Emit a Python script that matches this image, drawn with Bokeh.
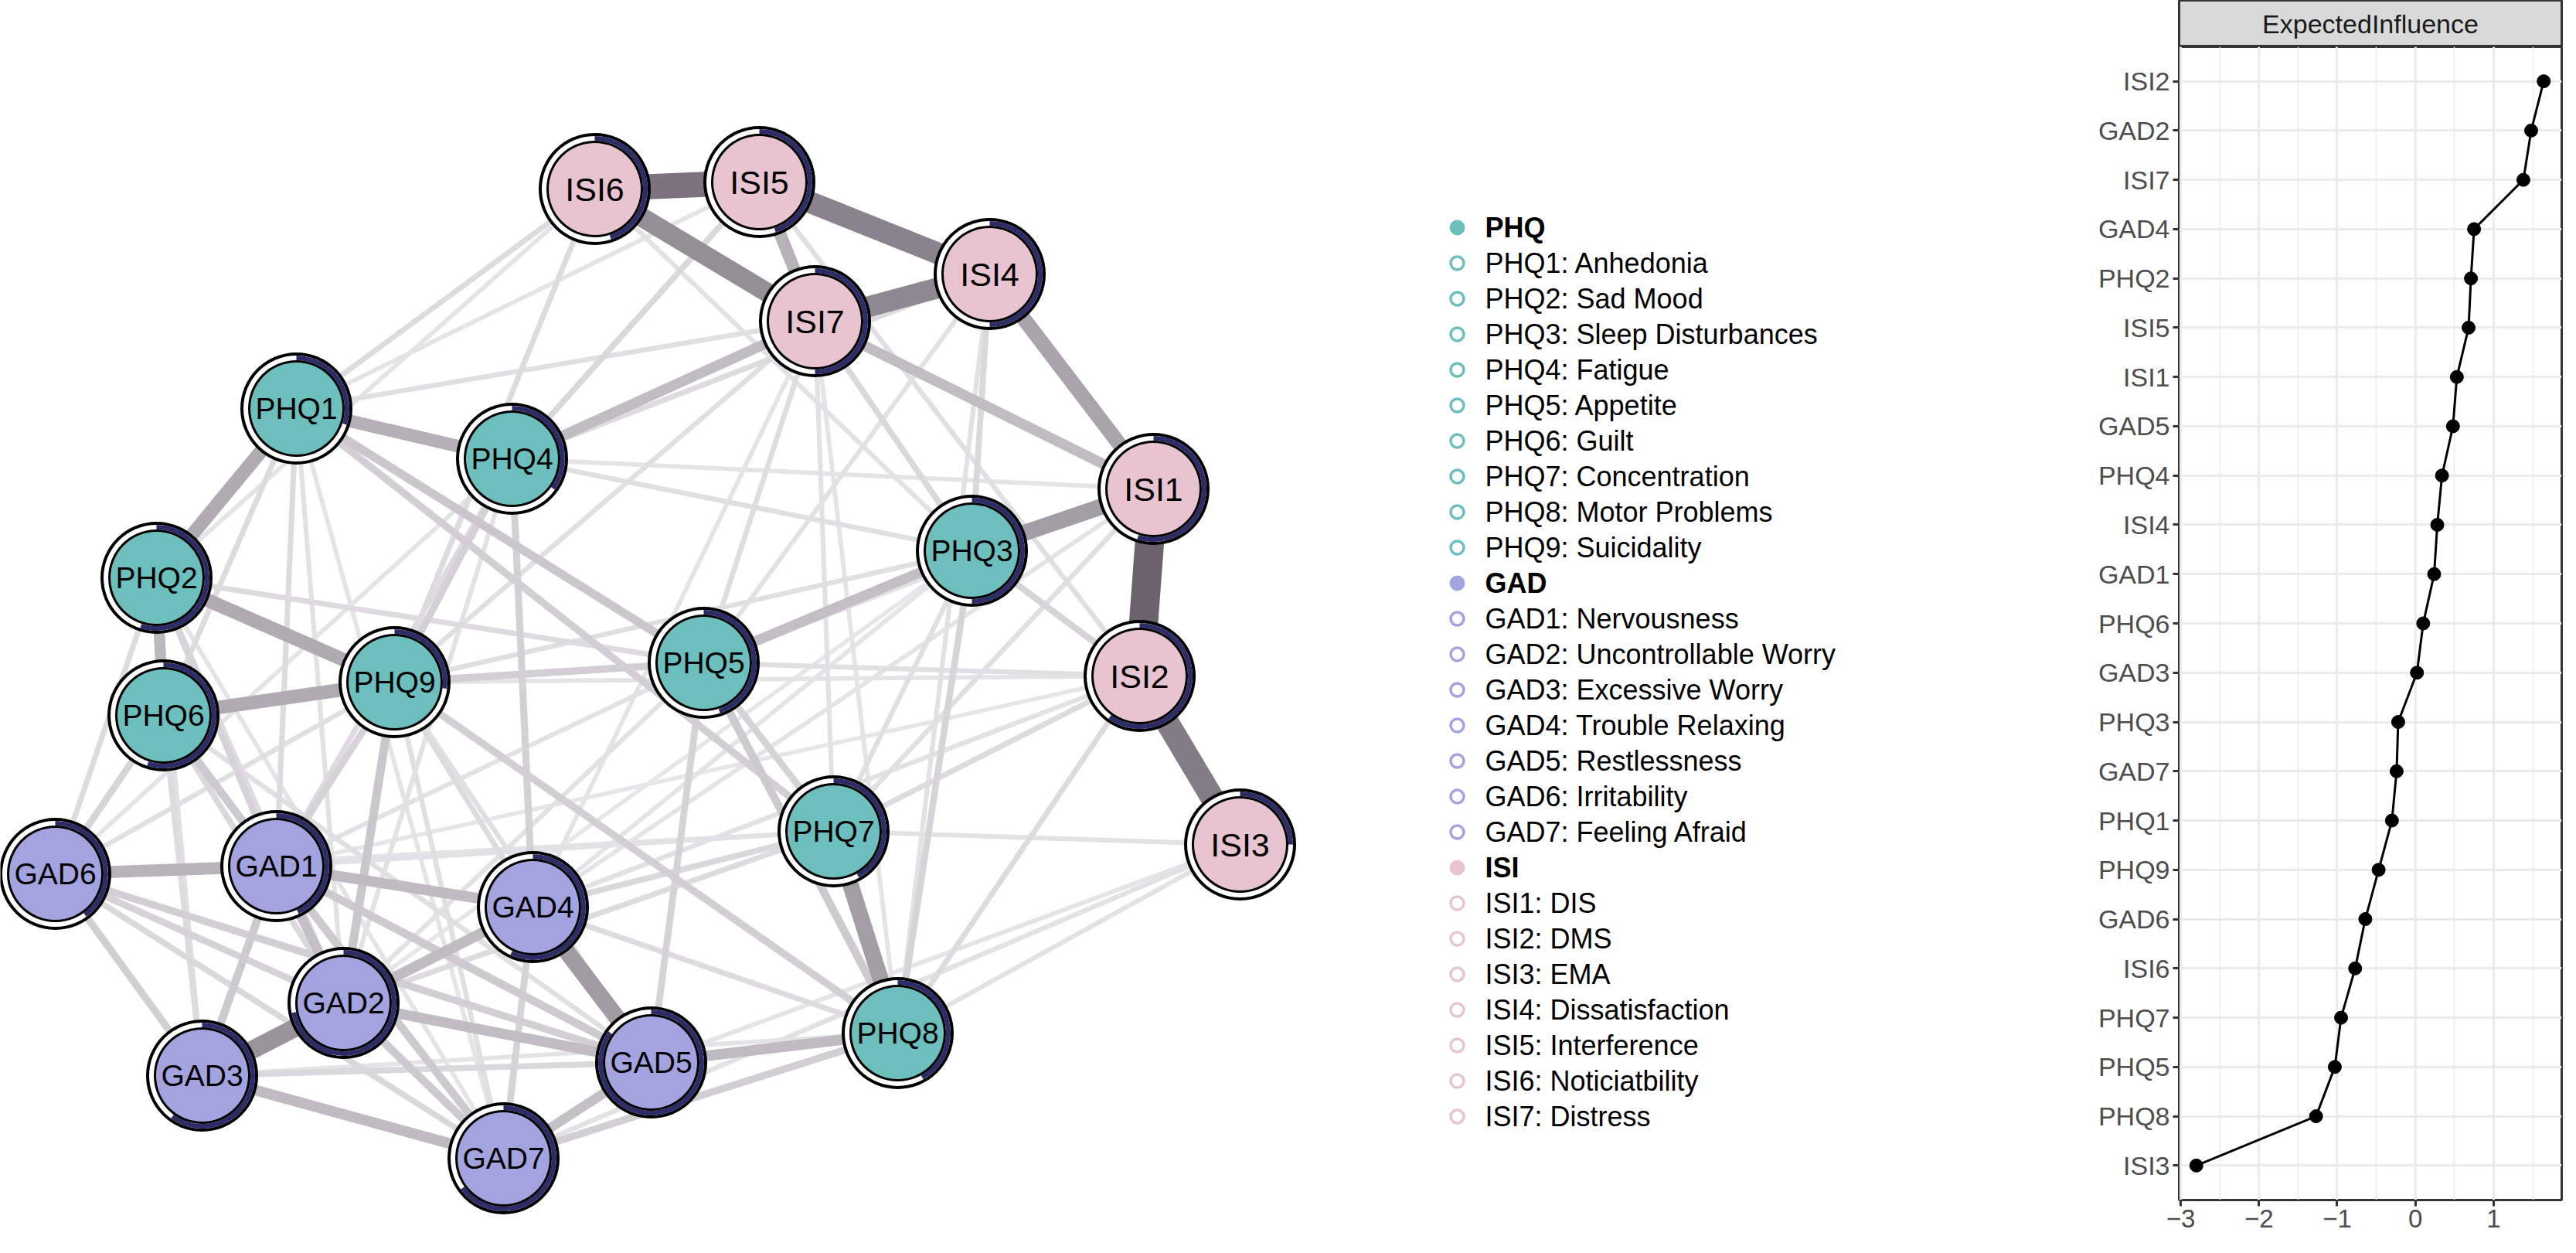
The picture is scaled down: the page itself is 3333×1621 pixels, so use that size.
import math
from bokeh.plotting import figure
from bokeh.models import ColumnDataSource, Range1d, FactorRange, Label, FixedTicker
from bokeh.layouts import row, column
from bokeh.embed import file_html
from bokeh.resources import INLINE
from bokeh.core.properties import value

FONT = "Liberation Sans"

# ---------------- network data ----------------
node_names = ["PHQ1", "PHQ2", "PHQ3", "PHQ4", "PHQ5", "PHQ6", "PHQ7", "PHQ8", "PHQ9",
              "GAD1", "GAD2", "GAD3", "GAD4", "GAD5", "GAD6", "GAD7",
              "ISI1", "ISI2", "ISI3", "ISI4", "ISI5", "ISI6", "ISI7"]
node_group = ["PHQ"] * 9 + ["GAD"] * 7 + ["ISI"] * 7
# layout positions (x to the right, y measured from the top)
node_x = [391, 210, 1265, 670, 918, 219, 1086, 1169, 518,
          365, 452, 269, 697, 850, 79, 659,
          1500, 1482, 1612, 1288, 990, 777, 1062]
node_y = [536, 755, 720, 601, 865, 933, 1083, 1344, 890,
          1128, 1305, 1399, 1181, 1382, 1138, 1506,
          640, 882, 1100, 362, 243, 252, 423]
# predictability (share of the ring drawn dark)
predictability = [0.30, 0.55, 0.50, 0.35, 0.45, 0.55, 0.42, 0.42, 0.27,
                  0.43, 0.72, 0.60, 0.57, 0.85, 0.40, 0.65,
                  0.55, 0.60, 0.25, 0.50, 0.45, 0.45, 0.50]

edge_from = ["ISI1", "ISI6", "ISI2", "ISI5", "ISI7", "ISI6", "GAD2", "GAD4", "PHQ7", "ISI1",
             "ISI4", "PHQ1", "PHQ2", "PHQ6", "PHQ1", "ISI5", "GAD6", "PHQ2", "GAD1", "GAD2",
             "GAD5", "GAD3", "GAD2", "ISI7", "PHQ4", "PHQ5", "GAD1", "GAD5", "PHQ1", "PHQ9",
             "PHQ6", "GAD1", "GAD1", "GAD2", "GAD6", "PHQ5", "GAD7", "PHQ1", "PHQ4", "PHQ9",
             "GAD1", "GAD6", "GAD6", "GAD6", "PHQ6", "PHQ2", "PHQ9", "PHQ5", "PHQ3", "PHQ3",
             "PHQ5", "PHQ4", "GAD4", "GAD3", "GAD4", "PHQ9", "ISI6", "ISI6", "ISI5", "PHQ4",
             "ISI7", "ISI4", "PHQ7", "ISI2", "ISI1", "PHQ1", "PHQ1", "PHQ2", "PHQ6", "PHQ6",
             "PHQ2", "PHQ4", "ISI6", "PHQ4", "PHQ7", "PHQ8", "ISI3", "ISI2", "PHQ5", "PHQ9",
             "PHQ9", "GAD3", "GAD6", "PHQ2", "GAD4", "ISI3", "ISI2", "PHQ3", "PHQ1", "ISI7",
             "PHQ5", "GAD7", "PHQ6", "PHQ2", "ISI4", "ISI5",
             "ISI1", "ISI1", "ISI2", "ISI2", "ISI3", "ISI3", "ISI6", "ISI7", "ISI7", "ISI4",
             "ISI5", "ISI7", "PHQ3", "PHQ3", "PHQ3", "PHQ2", "PHQ2", "PHQ1", "PHQ1", "PHQ4",
             "PHQ4", "GAD6", "GAD1", "GAD3", "GAD6", "PHQ9", "PHQ6", "PHQ5", "PHQ5"]
edge_to = ["ISI2", "ISI5", "ISI3", "ISI4", "ISI4", "ISI7", "GAD3", "GAD5", "PHQ8", "PHQ3",
           "ISI1", "PHQ2", "PHQ9", "PHQ9", "PHQ4", "ISI7", "GAD1", "PHQ6", "GAD4", "GAD4",
           "PHQ8", "GAD7", "GAD5", "ISI1", "ISI7", "PHQ3", "GAD2", "GAD7", "PHQ5", "GAD2",
           "GAD1", "GAD3", "GAD7", "GAD7", "GAD3", "PHQ8", "PHQ8", "PHQ7", "PHQ9", "PHQ5",
           "GAD5", "GAD5", "GAD2", "PHQ6", "GAD6", "GAD1", "GAD1", "PHQ7", "PHQ8", "ISI2",
           "GAD5", "GAD4", "PHQ7", "GAD5", "GAD7", "PHQ8", "PHQ1", "PHQ9", "PHQ4", "ISI4",
           "PHQ3", "PHQ3", "ISI2", "PHQ8", "PHQ7", "GAD1", "PHQ6", "GAD2", "GAD3", "GAD2",
           "GAD6", "GAD1", "PHQ3", "PHQ3", "GAD2", "GAD4", "PHQ8", "PHQ5", "ISI7", "GAD4",
           "GAD5", "GAD6", "PHQ9", "GAD3", "ISI1", "GAD7", "GAD4", "PHQ9", "ISI7", "PHQ9",
           "ISI1", "ISI3", "GAD5", "PHQ5", "PHQ5", "ISI2",
           "PHQ4", "PHQ5", "PHQ9", "GAD1", "GAD5", "PHQ7", "PHQ2", "PHQ7", "PHQ8", "PHQ8",
           "PHQ1", "GAD4", "GAD4", "GAD2", "PHQ7", "GAD3", "GAD7", "GAD2", "GAD7", "GAD2",
           "GAD6", "GAD7", "PHQ7", "PHQ8", "PHQ7", "GAD7", "GAD7", "GAD2", "GAD1"]
edge_weight = [1.00, 0.85, 0.78, 0.72, 0.68, 0.62, 0.58, 0.52, 0.50, 0.50,
               0.45, 0.40, 0.40, 0.40, 0.36, 0.35, 0.34, 0.30, 0.28, 0.28,
               0.28, 0.28, 0.27, 0.27, 0.27, 0.26, 0.24, 0.24, 0.20, 0.20,
               0.18, 0.18, 0.18, 0.18, 0.15, 0.18, 0.15, 0.15, 0.14, 0.15,
               0.18, 0.15, 0.13, 0.12, 0.12, 0.12, 0.13, 0.13, 0.12, 0.12,
               0.13, 0.14, 0.10, 0.10, 0.13, 0.15, 0.08, 0.08, 0.10, 0.08,
               0.10, 0.10, 0.08, 0.08, 0.06, 0.08, 0.08, 0.08, 0.08, 0.10,
               0.08, 0.08, 0.05, 0.06, 0.08, 0.08, 0.05, 0.06, 0.07, 0.08,
               0.06, 0.06, 0.06, 0.06, 0.04, 0.05, 0.05, 0.06, 0.06, 0.06,
               0.05, 0.04, 0.06, 0.08, 0.05, 0.06,
               0.04, 0.05, 0.04, 0.03, 0.04, 0.05, 0.04, 0.05, 0.04, 0.05,
               0.04, 0.04, 0.04, 0.03, 0.06, 0.06, 0.04, 0.05, 0.04, 0.05,
               0.04, 0.10, 0.05, 0.04, 0.04, 0.06, 0.05, 0.05, 0.05]

group_names = ["PHQ", "GAD", "ISI"]
legend_labels = ["PHQ", "PHQ1: Anhedonia", "PHQ2: Sad Mood", "PHQ3: Sleep Disturbances",
                 "PHQ4: Fatigue", "PHQ5: Appetite", "PHQ6: Guilt", "PHQ7: Concentration",
                 "PHQ8: Motor Problems", "PHQ9: Suicidality",
                 "GAD", "GAD1: Nervousness", "GAD2: Uncontrollable Worry", "GAD3: Excessive Worry",
                 "GAD4: Trouble Relaxing", "GAD5: Restlessness", "GAD6: Irritability",
                 "GAD7: Feeling Afraid",
                 "ISI", "ISI1: DIS", "ISI2: DMS", "ISI3: EMA", "ISI4: Dissatisfaction",
                 "ISI5: Interference", "ISI6: Noticiatbility", "ISI7: Distress"]

# ---------------- centrality data ----------------
cent_nodes = ["ISI2", "GAD2", "ISI7", "GAD4", "PHQ2", "ISI5", "ISI1", "GAD5", "PHQ4", "ISI4",
              "GAD1", "PHQ6", "GAD3", "PHQ3", "GAD7", "PHQ1", "PHQ9", "GAD6", "ISI6", "PHQ7",
              "PHQ5", "PHQ8", "ISI3"]
cent_values = [1.64, 1.48, 1.38, 0.75, 0.71, 0.68, 0.53, 0.48, 0.34, 0.28,
               0.24, 0.10, 0.02, -0.22, -0.24, -0.30, -0.47, -0.64, -0.77, -0.95,
               -1.03, -1.27, -2.80]
x_ticks = [-3, -2, -1, 0, 1]

# ---------------- styles ----------------
group_fill = {"PHQ": "#6CBFBD", "GAD": "#A3A3E0", "ISI": "#E8C4D0"}
group_font = {"PHQ": "39px", "GAD": "39px", "ISI": "43px"}
NAVY = "#2C2D68"
PAGE_H = 1621
W1, H1 = 2659, 1605

def edge_color(w):
    t = min(1.0, w) ** 0.8
    light = (238, 238, 240)
    dark = (108, 98, 110)
    c = [int(round(light[i] + (dark[i] - light[i]) * t)) for i in range(3)]
    return "#%02x%02x%02x" % tuple(c)

p1 = figure(width=W1, height=H1, x_range=Range1d(8, 8 + W1), y_range=Range1d(8, 8 + H1),
            output_backend="svg", toolbar_location=None,
            x_axis_location=None, y_axis_location=None,
            min_border_left=0, min_border_right=0, min_border_top=0, min_border_bottom=0)
p1.grid.visible = False
p1.outline_line_color = None
p1.background_fill_color = "white"

pos = {n: (node_x[i], PAGE_H - node_y[i]) for i, n in enumerate(node_names)}

order = sorted(range(len(edge_weight)), key=lambda i: edge_weight[i])
esrc = ColumnDataSource(dict(
    x0=[pos[edge_from[i]][0] for i in order],
    y0=[pos[edge_from[i]][1] for i in order],
    x1=[pos[edge_to[i]][0] for i in order],
    y1=[pos[edge_to[i]][1] for i in order],
    w=[4.5 + 33 * edge_weight[i] for i in order],
    c=[edge_color(edge_weight[i]) for i in order],
))
p1.segment("x0", "y0", "x1", "y1", source=esrc, line_width="w", line_color="c", line_cap="butt")

nsrc = ColumnDataSource(dict(
    x=[pos[n][0] for n in node_names],
    y=[pos[n][1] for n in node_names],
    name=node_names,
    fill=[group_fill[g] for g in node_group],
    fs=[group_font[g] for g in node_group],
    start=[math.pi / 2] * len(node_names),
    end=[math.pi / 2 - 2 * math.pi * v for v in predictability],
))
p1.circle("x", "y", radius=72.5, source=nsrc, fill_color="black", line_color=None)
p1.circle("x", "y", radius=68.5, source=nsrc, fill_color="white", line_color=None)
p1.annular_wedge("x", "y", inner_radius=62.5, outer_radius=68.5, start_angle="start",
                 end_angle="end", direction="clock", source=nsrc,
                 fill_color=NAVY, line_color=None)
p1.circle("x", "y", radius=62.5, source=nsrc, fill_color="black", line_color=None)
p1.circle("x", "y", radius=59.5, source=nsrc, fill_color="fill", line_color=None)
p1.text("x", "y", text="name", source=nsrc, text_font=value(FONT), text_font_size="fs",
        text_align="center", text_baseline="middle", text_color="black")

# legend
LEG_SYM_X, LEG_TXT_X, LEG_Y0, LEG_DY = 1893, 1929, 302, 46.0
hdr = dict(x=[], y=[], t=[], c=[])
itm = dict(x=[], y=[], t=[], c=[])
cur = None
for i, lab in enumerate(legend_labels):
    yy = PAGE_H - (LEG_Y0 + i * LEG_DY)
    if lab in group_names:
        cur = lab
        d = hdr
    else:
        d = itm
    d["x"].append(LEG_SYM_X)
    d["y"].append(yy)
    d["t"].append(lab)
    d["c"].append(group_fill[cur])
hsrc = ColumnDataSource(hdr)
isrc = ColumnDataSource(itm)
p1.scatter("x", "y", source=hsrc, size=19, marker="circle", fill_color="c", line_color="c")
p1.scatter("x", "y", source=isrc, size=17, marker="circle", fill_color="white",
           line_color="c", line_width=3.5)
p1.text(LEG_TXT_X, "y", text="t", source=hsrc, text_font=value(FONT), text_font_size="36px",
        text_font_style="bold", text_baseline="middle", text_color="black")
p1.text(LEG_TXT_X, "y", text="t", source=isrc, text_font=value(FONT), text_font_size="36px",
        text_baseline="middle", text_color="black")

# ---------------- centrality plot ----------------
FW = 495
strip = figure(frame_width=FW, frame_height=60, x_range=Range1d(0, 1), y_range=Range1d(0, 1),
               output_backend="svg", toolbar_location=None,
               x_axis_location=None, y_axis_location=None,
               min_border_left=160, min_border_right=3, min_border_top=0, min_border_bottom=0)
strip.grid.visible = False
strip.background_fill_color = "#D9D9D9"
strip.border_fill_color = "white"
strip.outline_line_color = "#333333"
strip.outline_line_width = 3
strip.add_layout(Label(x=0.5, y=0.5, text="ExpectedInfluence", text_align="center",
                       text_baseline="middle", text_font=FONT, text_font_size="34px",
                       text_color="#1A1A1A"))

factors = list(reversed(cent_nodes))
p2 = figure(frame_width=FW, frame_height=1492, x_range=Range1d(-3.02, 1.87),
            y_range=FactorRange(factors=factors, range_padding=0.2,
                                range_padding_units="absolute"),
            output_backend="svg", toolbar_location=None,
            min_border_left=160, min_border_right=3, min_border_top=0, min_border_bottom=53)
p2.background_fill_color = "white"
p2.outline_line_color = "#333333"
p2.outline_line_width = 3
p2.xaxis.ticker = FixedTicker(ticks=x_ticks, minor_ticks=[t + 0.5 for t in x_ticks])
p2.xaxis.major_label_overrides = {t: ("\u2212%d" % -t if t < 0 else "%d" % t) for t in x_ticks}
p2.xgrid.grid_line_color = "#EBEBEB"
p2.xgrid.grid_line_width = 3
p2.xgrid.minor_grid_line_color = "#EBEBEB"
p2.xgrid.minor_grid_line_width = 1.5
p2.ygrid.grid_line_color = "#EBEBEB"
p2.ygrid.grid_line_width = 3
for ax in (p2.xaxis[0], p2.yaxis[0]):
    ax.axis_line_color = None
    ax.major_tick_line_color = "#333333"
    ax.major_tick_line_width = 3
    ax.major_tick_out = 8
    ax.major_tick_in = 0
    ax.minor_tick_line_color = None
    ax.major_label_text_color = "#4D4D4D"
    ax.major_label_text_font = FONT
    ax.major_label_standoff = 4
p2.yaxis.major_label_text_font_size = "34px"
p2.xaxis.major_label_text_font_size = "33px"

p2.line(cent_values, cent_nodes, line_color="black", line_width=3)
p2.scatter(cent_values, cent_nodes, size=17, marker="circle", fill_color="black",
           line_color="black")

layout = row(p1, column(strip, p2, spacing=0), spacing=0)
open("out.html", "w").write(file_html(layout, INLINE))
